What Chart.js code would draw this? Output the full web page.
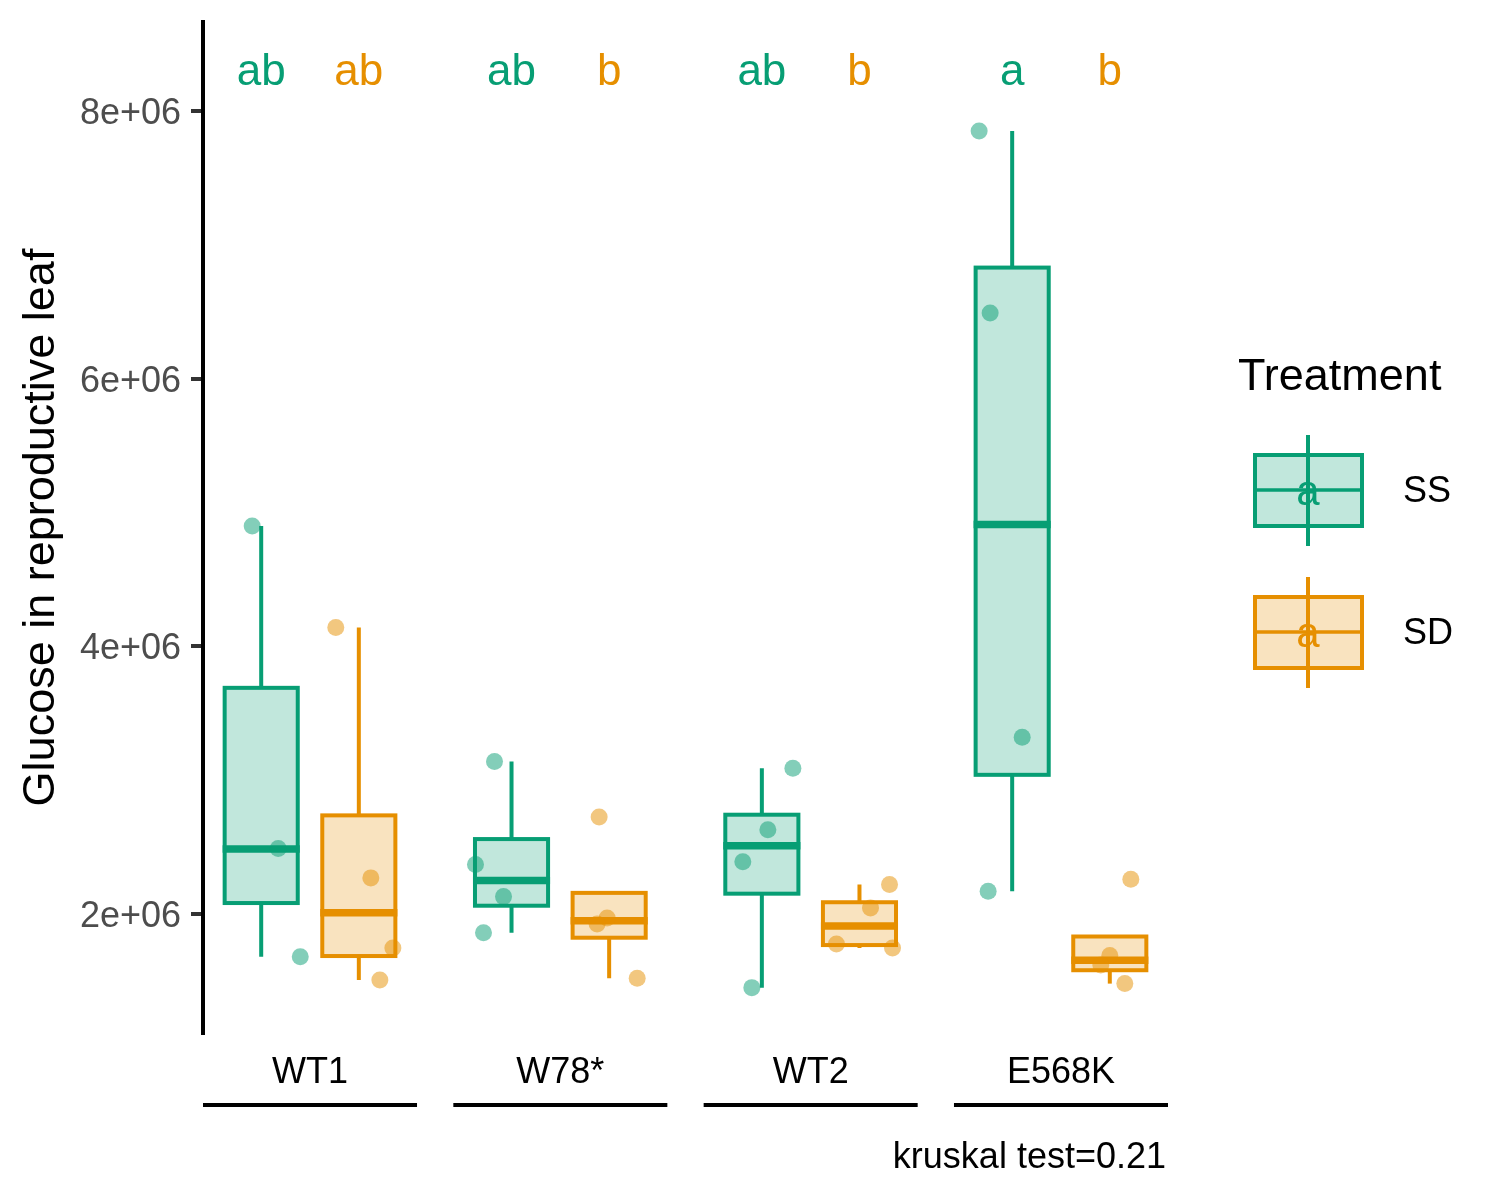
<!DOCTYPE html>
<html>
<head>
<meta charset="utf-8">
<script src="https://cdn.jsdelivr.net/npm/chart.js@4"></script>
<style>
  body { margin: 0; background: #fff; }
  #wrap { width: 1500px; height: 1200px; }
</style>
</head>
<body>
<div id="wrap"><canvas id="glucoseChart" width="1500" height="1200"></canvas></div>
<script>
// genotypes and treatments
const categories = ['WT1', 'W78*', 'WT2', 'E568K'];
const treatments = ['SS', 'SD'];
const yTicks = [2e6, 4e6, 6e6, 8e6];
const yTickLabels = ['2e+06', '4e+06', '6e+06', '8e+06'];

// raw points and their horizontal jitter
const ssPoints = [[4.90e6, 2.49e6, 1.68e6], [3.14e6, 2.37e6, 2.13e6, 1.86e6], [3.09e6, 2.63e6, 2.39e6, 1.45e6], [7.85e6, 6.49e6, 3.32e6, 2.17e6]];
const ssJitter = [[-0.036, 0.068, 0.156], [-0.068, -0.144, -0.032, -0.112], [0.124, 0.024, -0.076, -0.04], [-0.132, -0.088, 0.04, -0.096]];
const sdPoints = [[4.14e6, 2.27e6, 1.507e6, 1.746e6], [2.725e6, 1.97e6, 1.925e6, 1.52e6], [2.22e6, 2.045e6, 1.776e6, 1.746e6], [2.26e6, 1.69e6, 1.62e6, 1.48e6]];
const sdJitter = [[-0.092, 0.048, 0.084, 0.136], [-0.04, -0.008, -0.048, 0.112], [0.12, 0.044, -0.092, 0.132], [0.084, 0, -0.036, 0.06]];

// box statistics
const ssMin = [1.68e6, 1.86e6, 1.45e6, 2.17e6];
const ssQ1 = [2.082e6, 2.062e6, 2.152e6, 3.04e6];
const ssMed = [2.486e6, 2.25e6, 2.51e6, 4.91e6];
const ssQ3 = [3.69e6, 2.56e6, 2.742e6, 6.83e6];
const ssMax = [4.90e6, 3.14e6, 3.09e6, 7.85e6];
const sdMin = [1.507e6, 1.52e6, 1.746e6, 1.48e6];
const sdQ1 = [1.686e6, 1.823e6, 1.768e6, 1.58e6];
const sdMed = [2.01e6, 1.95e6, 1.91e6, 1.655e6];
const sdQ3 = [2.737e6, 2.158e6, 2.088e6, 1.832e6];
const sdMax = [4.14e6, 2.158e6, 2.22e6, 1.832e6];

// significance letters
const ssLetters = ['ab', 'ab', 'ab', 'a'];
const sdLetters = ['ab', 'b', 'b', 'b'];
const caption = 'kruskal test=0.21';

const GREEN = '#079E74';
const ORANGE = '#E68F00';
const GREEN_FILL = 'rgba(7,158,116,0.25)';
const ORANGE_FILL = 'rgba(230,143,0,0.25)';
const DODGE = 0.195;
const HALF = 0.146;
const FONT = '"Liberation Sans", Arial, sans-serif';

function toPoints(vals, jit, off) {
    const out = [];
    vals.forEach((arr, i) => arr.forEach((v, j) => out.push({ x: i + 1 + off + jit[i][j], y: v })));
    return out;
}

function drawBox(ctx, xs, ys, cx, lo, q1, med, q3, hi, col, fill) {
    const l = xs.getPixelForValue(cx - HALF), r = xs.getPixelForValue(cx + HALF);
    const m = xs.getPixelForValue(cx);
    ctx.strokeStyle = col;
    ctx.lineWidth = 4;
    ctx.beginPath();
    if (hi > q3) { ctx.moveTo(m, ys.getPixelForValue(q3)); ctx.lineTo(m, ys.getPixelForValue(hi)); }
    if (lo < q1) { ctx.moveTo(m, ys.getPixelForValue(q1)); ctx.lineTo(m, ys.getPixelForValue(lo)); }
    ctx.stroke();
    const t = ys.getPixelForValue(q3), b = ys.getPixelForValue(q1);
    ctx.fillStyle = fill;
    ctx.fillRect(l, t, r - l, b - t);
    ctx.strokeRect(l, t, r - l, b - t);
    ctx.lineWidth = 7.5;
    ctx.beginPath();
    const y = ys.getPixelForValue(med);
    ctx.moveTo(l - 2, y); ctx.lineTo(r + 2, y);
    ctx.stroke();
}

function legendKey(ctx, y0, col, fill, label) {
    // y0 = top of whisker
    ctx.strokeStyle = col;
    ctx.lineWidth = 4;
    ctx.beginPath();
    ctx.moveTo(1308, y0); ctx.lineTo(1308, y0 + 111);
    ctx.stroke();
    ctx.fillStyle = fill;
    ctx.fillRect(1255, y0 + 20, 107, 71);
    ctx.strokeRect(1255, y0 + 20, 107, 71);
    ctx.lineWidth = 3.5;
    ctx.beginPath();
    ctx.moveTo(1255, y0 + 55); ctx.lineTo(1362, y0 + 55);
    ctx.stroke();
    ctx.fillStyle = col;
    ctx.font = '42px ' + FONT;
    ctx.textAlign = 'center';
    ctx.textBaseline = 'middle';
    ctx.fillText('a', 1308, y0 + 58);
    ctx.fillStyle = '#000';
    ctx.font = '36px ' + FONT;
    ctx.textAlign = 'left';
    ctx.fillText(label, 1403, y0 + 57);
}

const boxPlugin = {
    id: 'boxes',
    beforeDatasetsDraw(chart) {
        const { ctx, scales: { x, y } } = chart;
        ctx.save();
        categories.forEach((c, i) => {
            drawBox(ctx, x, y, i + 1 - DODGE, ssMin[i], ssQ1[i], ssMed[i], ssQ3[i], ssMax[i], GREEN, GREEN_FILL);
            drawBox(ctx, x, y, i + 1 + DODGE, sdMin[i], sdQ1[i], sdMed[i], sdQ3[i], sdMax[i], ORANGE, ORANGE_FILL);
        });
        ctx.restore();
    },
    afterDraw(chart) {
        const { ctx, scales: { x, y }, chartArea } = chart;
        ctx.save();
        // letters above boxes
        ctx.font = '44px ' + FONT;
        ctx.textAlign = 'center';
        ctx.textBaseline = 'middle';
        const ly = y.getPixelForValue(8.285e6);
        categories.forEach((c, i) => {
            ctx.fillStyle = GREEN;
            ctx.fillText(ssLetters[i], x.getPixelForValue(i + 1 - DODGE), ly);
            ctx.fillStyle = ORANGE;
            ctx.fillText(sdLetters[i], x.getPixelForValue(i + 1 + DODGE), ly);
        });
        // group labels and brackets
        ctx.fillStyle = '#000';
        ctx.font = '36px ' + FONT;
        categories.forEach((c, i) => {
            ctx.fillText(c, x.getPixelForValue(i + 1), 1073);
            ctx.strokeStyle = '#000';
            ctx.lineWidth = 4;
            ctx.beginPath();
            ctx.moveTo(x.getPixelForValue(i + 1 - 0.4275), 1105);
            ctx.lineTo(x.getPixelForValue(i + 1 + 0.4275), 1105);
            ctx.stroke();
        });
        ctx.textAlign = 'right';
        ctx.fillText(caption, chartArea.right - 2, 1158);
        // y title
        ctx.save();
        ctx.translate(42, (chartArea.top + chartArea.bottom) / 2);
        ctx.rotate(-Math.PI / 2);
        ctx.textAlign = 'center';
        ctx.font = '45px ' + FONT;
        ctx.fillText('Glucose in reproductive leaf', 0, 0);
        ctx.restore();
        // legend
        ctx.textAlign = 'left';
        ctx.font = '45px ' + FONT;
        ctx.fillStyle = '#000';
        ctx.fillText('Treatment', 1238, 378);
        legendKey(ctx, 435, GREEN, GREEN_FILL, treatments[0]);
        legendKey(ctx, 577, ORANGE, ORANGE_FILL, treatments[1]);
        ctx.restore();
    }
};

const ctx = document.getElementById('glucoseChart').getContext('2d');
new Chart(ctx, {
    type: 'scatter',
    data: {
        datasets: [{
            label: treatments[0],
            data: toPoints(ssPoints, ssJitter, -DODGE),
            backgroundColor: 'rgba(7,158,116,0.5)',
            borderWidth: 0,
            pointRadius: 8.5
        }, {
            label: treatments[1],
            data: toPoints(sdPoints, sdJitter, DODGE),
            backgroundColor: 'rgba(230,143,0,0.5)',
            borderWidth: 0,
            pointRadius: 8.5
        }]
    },
    options: {
        responsive: false,
        animation: false,
        layout: { padding: { left: 0, right: 332, top: 22, bottom: 167 } },
        scales: {
            x: { type: 'linear', display: false, min: 0.5725, max: 4.4275 },
            y: {
                min: 1.111e6,
                max: 8.665e6,
                afterBuildTicks: (s) => { s.ticks = yTicks.map(v => ({ value: v })); },
                afterFit: (s) => { s.width = 203; s.paddingTop = 0; s.paddingBottom = 0; },
                ticks: {
                    padding: 10,
                    labelOffset: 3,
                    color: '#4D4D4D',
                    font: { family: FONT, size: 36 },
                    callback: (v) => yTickLabels[yTicks.indexOf(v)]
                },
                grid: { drawOnChartArea: false, tickLength: 12, tickColor: '#333333', tickWidth: 4, lineWidth: 4 },
                border: { color: '#000', width: 4 }
            }
        },
        plugins: {
            legend: { display: false },
            tooltip: { enabled: false }
        }
    },
    plugins: [boxPlugin]
});
</script>
</body>
</html>
